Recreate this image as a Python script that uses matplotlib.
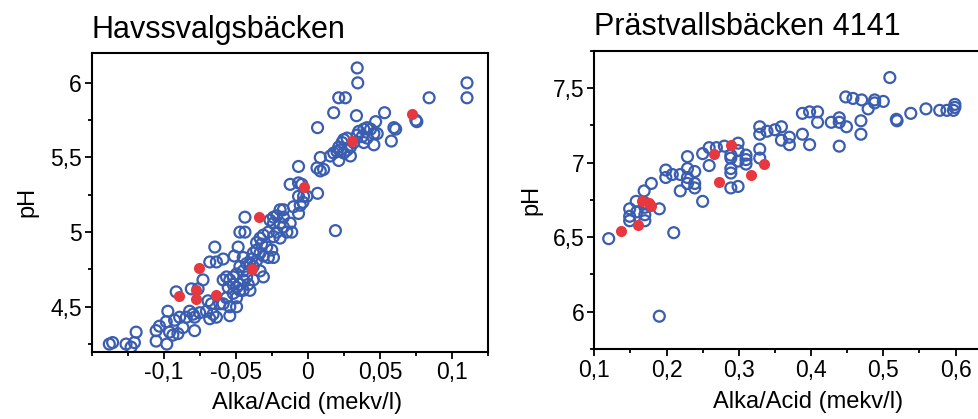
import matplotlib
matplotlib.use("Agg")
import matplotlib.pyplot as plt
from matplotlib.ticker import MultipleLocator, FixedLocator, FixedFormatter

plt.rcParams['font.family'] = ['Liberation Sans', 'DejaVu Sans']

# Havssvalgsbäcken - öppna cirklar
hav_x = [0.0342, 0.0346, 0.1104, 0.1104, 0.0841, 0.0214, 0.0260, 0.0179, 0.0337, 0.0532,
         0.0470, 0.0067, 0.0749, 0.0756, 0.0597, 0.0609, 0.0579, 0.0458, 0.0458, 0.0388,
         0.0411, 0.0353, 0.0377, 0.0342, 0.0272, 0.0249, 0.0237, 0.0214, 0.0225, 0.0202,
         0.0272, 0.0295, 0.0249, 0.0179, 0.0156, 0.0086, 0.0214, 0.0295, 0.0388, 0.0318,
         0.0411, 0.0481, 0.0435,
         -0.0065, 0.0063, 0.0086, 0.0109, -0.0123, -0.0065, -0.0042, 0.0067, -0.0065, -0.0030,
         -0.0007, -0.0035, -0.0053, -0.0065, -0.0100, -0.0170, -0.0193, -0.0239, -0.0216, -0.0170,
         -0.0263, -0.0239, -0.0193, -0.0123, -0.0170, -0.0146, -0.0112, -0.0216, -0.0239, -0.0193,
         -0.0274, -0.0309, -0.0332, -0.0356, -0.0321, -0.0286, -0.0251, -0.0239, -0.0274, -0.0309,
         -0.0332, -0.0356, -0.0379, -0.0391, -0.0356, -0.0437, -0.0472, -0.0437, 0.0191, -0.0484,
         -0.0511, -0.0449, -0.0425, -0.0402, -0.0379, -0.0472, -0.0449, -0.0495, -0.0518, -0.0565,
         -0.0542, -0.0588, -0.0553, -0.0518, -0.0495, -0.0472, -0.0449, -0.0402, -0.0414, -0.0379,
         -0.0309, -0.0332, -0.0425, -0.0449, -0.0472, -0.0518, -0.0495, -0.0565, -0.0588, -0.0611,
         -0.0542, -0.0495, -0.0646, -0.0681, -0.0635, -0.0588, -0.0728, -0.0809, -0.0762, -0.0914,
         -0.0693, -0.0669, -0.0704, -0.0658, -0.0681, -0.0635, -0.0542, -0.0786, -0.0797, -0.0751,
         -0.0821, -0.0844, -0.0890, -0.0925, -0.0972, -0.0983, -0.1030, -0.1053, -0.0960, -0.0937,
         -0.0902, -0.0786, -0.0867, -0.1192, -0.1204, -0.1262, -0.1378, -0.1355, -0.1227, -0.1053,
         -0.0979]
hav_ph = [6.10, 6.00, 6.00, 5.90, 5.90, 5.90, 5.90, 5.80, 5.78, 5.80,
          5.74, 5.70, 5.75, 5.74, 5.70, 5.69, 5.61, 5.585, 5.66, 5.69,
          5.70, 5.675, 5.64, 5.65, 5.63, 5.62, 5.60, 5.57, 5.55, 5.54,
          5.55, 5.51, 5.53, 5.53, 5.51, 5.50, 5.48, 5.57, 5.60, 5.60,
          5.63, 5.66, 5.69,
          5.44, 5.43, 5.41, 5.42, 5.32, 5.33, 5.32, 5.26, 5.24, 5.24,
          5.24, 5.20, 5.18, 5.125, 5.17, 5.15, 5.15, 5.10, 5.11, 5.10,
          5.08, 5.06, 5.06, 5.06, 5.035, 5.00, 5.00, 5.00, 4.97, 4.96,
          5.00, 4.98, 4.96, 4.93, 4.92, 4.90, 4.88, 4.83, 4.83, 4.84,
          4.86, 4.88, 4.86, 4.82, 4.81, 5.10, 5.00, 5.00, 5.01, 4.90,
          4.84, 4.83, 4.79, 4.79, 4.77, 4.77, 4.74, 4.72, 4.70, 4.70,
          4.68, 4.68, 4.63, 4.65, 4.63, 4.61, 4.61, 4.61, 4.65, 4.68,
          4.70, 4.74, 4.70, 4.68, 4.65, 4.59, 4.56, 4.56, 4.52, 4.52,
          4.50, 4.50, 4.90, 4.80, 4.80, 4.82, 4.68, 4.62, 4.62, 4.60,
          4.54, 4.52, 4.47, 4.45, 4.42, 4.43, 4.44, 4.43, 4.45, 4.46,
          4.47, 4.43, 4.43, 4.41, 4.47, 4.40, 4.37, 4.34, 4.33, 4.31,
          4.32, 4.34, 4.36, 4.33, 4.26, 4.25, 4.25, 4.26, 4.23, 4.27,
          4.25]
# Havssvalgsbäcken - fyllda röda
hav_red_x = [0.0725, 0.0307, -0.0030, -0.0342, -0.0758, -0.0897, -0.0774, -0.0774, -0.0635, -0.0391]
hav_red_ph = [5.79, 5.61, 5.30, 5.10, 4.76, 4.57, 4.61, 4.55, 4.58, 4.75]

# Prästvallsbäcken 4141 - öppna cirklar
pra_x = [0.509, 0.448, 0.458, 0.470, 0.488, 0.488, 0.500, 0.479, 0.559, 0.578,
         0.588, 0.597, 0.599, 0.599, 0.538, 0.518, 0.519, 0.469, 0.469, 0.439,
         0.439, 0.428, 0.449, 0.439, 0.388, 0.398, 0.409, 0.409, 0.388, 0.398,
         0.359, 0.350, 0.339, 0.329, 0.329, 0.359, 0.370, 0.370, 0.329, 0.329,
         0.310, 0.310, 0.310, 0.299, 0.299, 0.299, 0.299, 0.289, 0.289, 0.289,
         0.289, 0.289, 0.280, 0.269, 0.259, 0.259, 0.250, 0.239, 0.239, 0.239,
         0.229, 0.229, 0.229, 0.229, 0.219, 0.219, 0.208, 0.199, 0.199, 0.179,
         0.169, 0.158, 0.170, 0.170, 0.170, 0.170, 0.149, 0.149, 0.149, 0.159,
         0.190, 0.250, 0.210, 0.120, 0.190]
pra_ph = [7.57, 7.44, 7.43, 7.42, 7.42, 7.40, 7.41, 7.36, 7.36, 7.35,
          7.35, 7.35, 7.39, 7.37, 7.33, 7.29, 7.28, 7.28, 7.19, 7.30,
          7.27, 7.27, 7.24, 7.11, 7.33, 7.34, 7.34, 7.27, 7.19, 7.12,
          7.24, 7.22, 7.21, 7.24, 7.19, 7.15, 7.17, 7.12, 7.09, 7.03,
          7.05, 7.02, 6.99, 7.13, 7.08, 7.01, 6.84, 7.05, 7.03, 6.96,
          6.93, 6.83, 7.11, 7.10, 7.10, 6.98, 7.06, 6.94, 6.86, 6.83,
          7.04, 6.96, 6.90, 6.86, 6.92, 6.81, 6.92, 6.95, 6.90, 6.86,
          6.81, 6.74, 6.73, 6.65, 6.61, 6.70, 6.69, 6.64, 6.61, 6.67,
          6.69, 6.74, 6.53, 6.49, 5.97]
# Prästvallsbäcken 4141 - fyllda röda
pra_red_x = [0.289, 0.266, 0.335, 0.317, 0.272, 0.166, 0.176, 0.179, 0.160, 0.137]
pra_red_ph = [7.12, 7.06, 6.99, 6.92, 6.87, 6.74, 6.73, 6.71, 6.58, 6.54]

hav_xticks = [-0.1, -0.05, 0, 0.05, 0.1]
hav_xlabels = ['-0,1', '-0,05', '0', '0,05', '0,1']
hav_yticks = [4.5, 5, 5.5, 6]
hav_ylabels = ['4,5', '5', '5,5', '6']
pra_xticks = [0.1, 0.2, 0.3, 0.4, 0.5, 0.6]
pra_xlabels = ['0,1', '0,2', '0,3', '0,4', '0,5', '0,6']
pra_yticks = [6, 6.5, 7, 7.5]
pra_ylabels = ['6', '6,5', '7', '7,5']

blue = '#3a5db0'
red = '#e8383f'

fig = plt.figure(figsize=(9.79, 4.19), dpi=100)
ax1 = fig.add_axes([0.0937, 0.161, 0.4048, 0.7125])
ax2 = fig.add_axes([0.607, 0.167, 0.406, 0.712])


def style(ax, title, xt, xl, yt, yl, xminor, yminor, lab_x, lab_y, ylab_x):
    ax.set_title(title, loc='left', fontsize=22, pad=11)
    ax.xaxis.set_major_locator(FixedLocator(xt))
    ax.xaxis.set_major_formatter(FixedFormatter(xl))
    ax.yaxis.set_major_locator(FixedLocator(yt))
    ax.yaxis.set_major_formatter(FixedFormatter(yl))
    ax.xaxis.set_minor_locator(MultipleLocator(xminor))
    ax.yaxis.set_minor_locator(MultipleLocator(yminor))
    ax.tick_params(which='major', length=5, width=1.3, labelsize=16.5, pad=2)
    ax.tick_params(which='minor', length=3, width=1.3)
    ax.set_xlabel('Alka/Acid (mekv/l)', fontsize=17)
    ax.set_ylabel('pH', fontsize=17)
    ax.xaxis.set_label_coords(lab_x, lab_y)
    ax.yaxis.set_label_coords(ylab_x, 0.5)
    for s in ax.spines.values():
        s.set_linewidth(1.5)


ax1.scatter(hav_x, hav_ph, s=62, facecolors='none', edgecolors=blue, linewidths=1.6, zorder=2)
ax1.scatter(hav_red_x, hav_red_ph, s=64, color=red, linewidths=0, zorder=3)
ax1.set_xlim(-0.15, 0.125)
ax1.set_ylim(4.2, 6.2)
style(ax1, 'Havssvalgsbäcken', hav_xticks, hav_xlabels, hav_yticks, hav_ylabels,
      0.025, 0.25, 0.543, -0.135, -0.135)

ax2.scatter(pra_x, pra_ph, s=62, facecolors='none', edgecolors=blue, linewidths=1.6, zorder=2)
ax2.scatter(pra_red_x, pra_red_ph, s=64, color=red, linewidths=0, zorder=3)
ax2.set_xlim(0.1, 0.65)
ax2.set_ylim(5.75, 7.75)
style(ax2, 'Prästvallsbäcken 4141', pra_xticks, pra_xlabels, pra_yticks, pra_ylabels,
      0.05, 0.25, 0.538, -0.14, -0.13)

fig.savefig('out.png', dpi=100)
